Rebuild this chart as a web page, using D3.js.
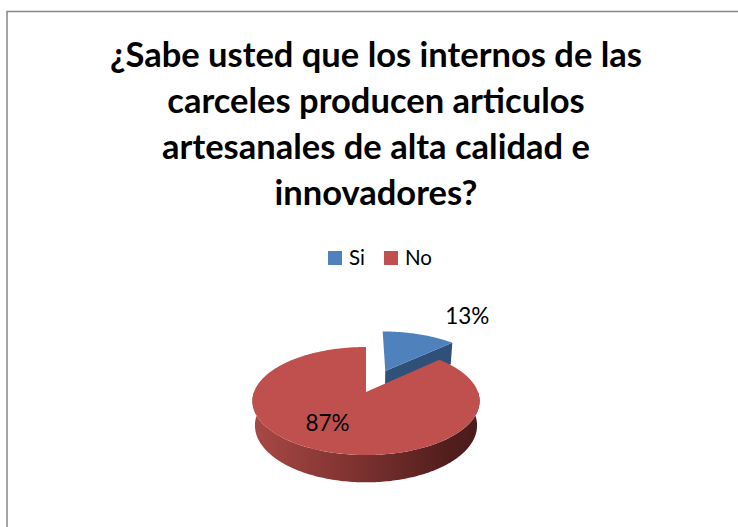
<!DOCTYPE html>
<html>
<head>
<meta charset="utf-8">
<script src="https://cdn.jsdelivr.net/npm/d3@7"></script>
<style>
  body { margin: 0; background: #fff; }
  text { font-family: Lato, Carlito, "Open Sans", sans-serif; }
</style>
</head>
<body>
<svg id="myChart" width="738" height="527"></svg>
<script>
// chart data
const categories = ['Si', 'No'];
const values = [13, 87];
const valueLabels = ['13%', '87%'];
const titleLines = [
	'¿Sabe usted que los internos de las',
	'carceles producen articulos',
	'artesanales de alta calidad e',
	'innovadores?'
];

const colors = ['#4F81BD', '#C0504D'];
const sideColors = ['#2E5079', '#7B302E'];

let svg = d3.select('#myChart');

// chart frame (runs off the page right and bottom)
svg.append('rect')
	.attr('x', 7)
	.attr('y', 11.5)
	.attr('width', 760)
	.attr('height', 540)
	.attr('fill', '#fff')
	.attr('stroke', '#878787')
	.attr('stroke-width', 1.5);

// title
svg.append('g')
	.selectAll('text')
	.data(titleLines)
	.enter()
	.append('text')
		.attr('x', 376)
		.attr('y', (d, i) => 67 + i * 46)
		.attr('text-anchor', 'middle')
		.attr('font-size', 34.5)
		.attr('font-weight', 'bold')
		.attr('fill', '#000')
		.text(d => d);

// legend
let legend = svg.append('g').attr('class', 'legend');
let legendX = d3.scaleOrdinal()
	.domain(categories)
	.range([328, 384]);

legend.selectAll('rect')
	.data(categories)
	.enter()
	.append('rect')
		.attr('x', d => legendX(d))
		.attr('y', 251)
		.attr('width', 14)
		.attr('height', 14)
		.attr('fill', (d, i) => colors[i]);

legend.selectAll('text')
	.data(categories)
	.enter()
	.append('text')
		.attr('x', d => legendX(d) + 21)
		.attr('y', 265)
		.attr('font-size', 20.5)
		.attr('fill', '#000')
		.text(d => d);

// 3D pie: perspective projection of a tilted disc
const cx = 366, cy = 392;
const R = 112, H = 28, D = 593;
const sinT = 0.469, cosT = Math.sqrt(1 - sinT * sinT);
const explode = [52, 0];

function proj(X, Y, Z) {
	let v = Z * sinT - Y * cosT;
	let w = Z * cosT + Y * sinT;
	let s = D / (D - w);
	return [cx + X * s, cy + v * s];
}

// point on the disc at angle a (clockwise from top), radius r, height y, slice offset o
function discPt(a, r, y, o) {
	return proj(o[0] + r * Math.sin(a), y, o[1] - r * Math.cos(a));
}

function arcPts(a0, a1, r, y, o) {
	let n = Math.max(2, Math.ceil(Math.abs(a1 - a0) / (Math.PI / 180)));
	return d3.range(n + 1).map(k => discPt(a0 + (a1 - a0) * k / n, r, y, o));
}

let pie = d3.pie().sort(null).value(d => d);
let slices = pie(values).map((d, i) => {
	let mid = (d.startAngle + d.endAngle) / 2;
	d.offset = [explode[i] * Math.sin(mid), -explode[i] * Math.cos(mid)];
	d.mid = mid;
	return d;
});

let line = d3.line();
let defs = svg.append('defs');

let grad = defs.append('linearGradient')
	.attr('id', 'redSide')
	.attr('gradientUnits', 'userSpaceOnUse')
	.attr('x1', cx - R).attr('x2', cx + R)
	.attr('y1', 0).attr('y2', 0);
grad.selectAll('stop')
	.data([['0', '#A84845'], ['0.45', '#7E3230'], ['0.85', '#531F1E'], ['1', '#4A1B1A']])
	.enter()
	.append('stop')
		.attr('offset', d => d[0])
		.attr('stop-color', d => d[1]);

let pieGroup = svg.append('g').attr('class', 'pie');

slices.forEach((d, i) => {
	let o = d.offset;
	let g = pieGroup.append('g');

	// radial face at the slice end angle (visible when it faces the front)
	let endNormal = d.endAngle + Math.PI / 2;
	if (-Math.cos(endNormal) > 0 && d.endAngle < 2 * Math.PI - 1e-6) {
		let face = [
			discPt(0, 0, 0, o),
			discPt(d.endAngle, R, 0, o),
			discPt(d.endAngle, R, -H, o),
			discPt(0, 0, -H, o)
		];
		g.append('path')
			.attr('d', line(face) + 'Z')
			.attr('fill', sideColors[i]);
	}

	// outer wall, front part only
	let w0 = Math.max(d.startAngle, Math.PI / 2);
	let w1 = Math.min(d.endAngle, 3 * Math.PI / 2);
	if (w1 > w0) {
		let wall = arcPts(w0, w1, R, 0, o).concat(arcPts(w1, w0, R, -H, o));
		g.append('path')
			.attr('d', line(wall) + 'Z')
			.attr('fill', i === 1 ? 'url(#redSide)' : sideColors[i]);
	}

	// top face
	let top = [discPt(0, 0, 0, o)].concat(arcPts(d.startAngle, d.endAngle, R, 0, o));
	g.append('path')
		.attr('d', line(top) + 'Z')
		.attr('fill', colors[i]);
});

// data labels
let labelPos = [
	d => { let p = discPt(d.mid, R, 0, d.offset); return [p[0] + 48, p[1] - 10]; },
	d => { let p = discPt(d.mid, R * 0.62, 0, d.offset); return [p[0] - 8, p[1] + 6]; }
];

pieGroup.selectAll('text')
	.data(slices)
	.enter()
	.append('text')
		.attr('x', (d, i) => labelPos[i](d)[0])
		.attr('y', (d, i) => labelPos[i](d)[1])
		.attr('text-anchor', 'middle')
		.attr('font-size', 22.5)
		.attr('fill', '#000')
		.text((d, i) => valueLabels[i]);
</script>
</body>
</html>
